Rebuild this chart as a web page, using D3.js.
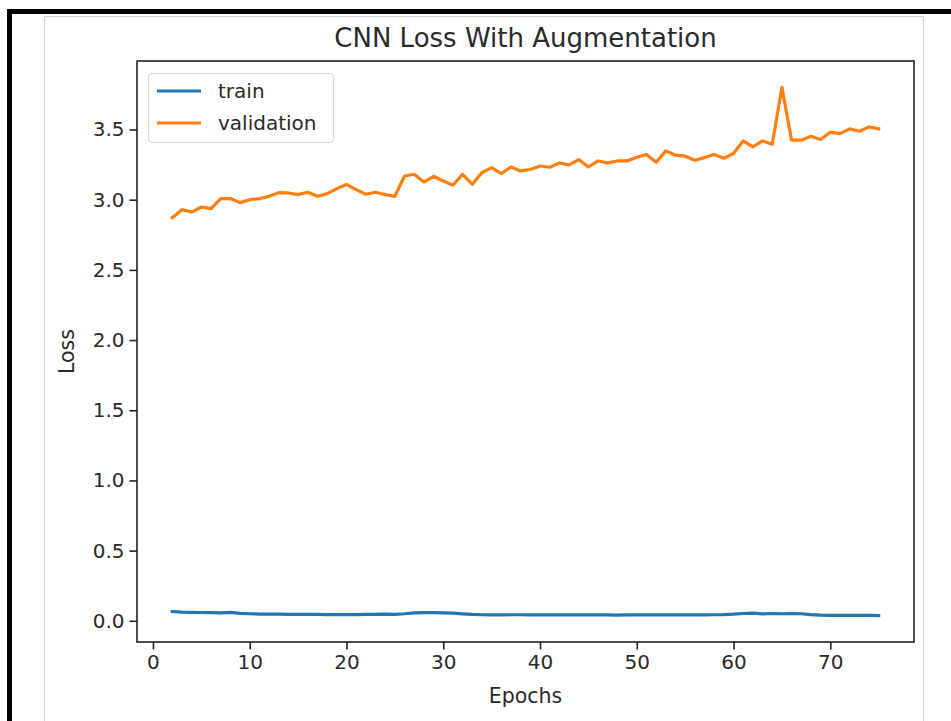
<!DOCTYPE html>
<html>
<head>
<meta charset="utf-8">
<script src="https://cdn.jsdelivr.net/npm/d3@7"></script>
<style>
  html, body { margin: 0; padding: 0; background: #ffffff; }
  svg { display: block; font-family: "DejaVu Sans", sans-serif; }
</style>
</head>
<body>
<div id="chart"></div>
<script>
// epochs on the x axis
let epochs = [2, 3, 4, 5, 6, 7, 8, 9, 10, 11, 12, 13, 14, 15, 16, 17, 18, 19, 20, 21,
  22, 23, 24, 25, 26, 27, 28, 29, 30, 31, 32, 33, 34, 35, 36, 37, 38, 39, 40, 41,
  42, 43, 44, 45, 46, 47, 48, 49, 50, 51, 52, 53, 54, 55, 56, 57, 58, 59, 60, 61,
  62, 63, 64, 65, 66, 67, 68, 69, 70, 71, 72, 73, 74, 75];

let trainLoss = [0.066, 0.062, 0.060, 0.059, 0.058, 0.057, 0.060, 0.053, 0.050, 0.048,
  0.047, 0.047, 0.046, 0.046, 0.045, 0.045, 0.044, 0.044, 0.044, 0.044,
  0.045, 0.045, 0.047, 0.046, 0.050, 0.056, 0.058, 0.058, 0.057, 0.054,
  0.049, 0.045, 0.043, 0.042, 0.042, 0.043, 0.043, 0.042, 0.042, 0.042,
  0.043, 0.042, 0.043, 0.042, 0.042, 0.042, 0.041, 0.042, 0.042, 0.042,
  0.043, 0.042, 0.042, 0.042, 0.042, 0.042, 0.043, 0.044, 0.047, 0.052,
  0.055, 0.049, 0.052, 0.050, 0.052, 0.050, 0.044, 0.040, 0.039, 0.039,
  0.038, 0.038, 0.038, 0.037];

let valLoss = [2.872, 2.929, 2.912, 2.948, 2.936, 3.008, 3.008, 2.979, 3.000, 3.008,
  3.024, 3.050, 3.048, 3.036, 3.053, 3.024, 3.043, 3.079, 3.108, 3.072,
  3.039, 3.053, 3.036, 3.024, 3.169, 3.181, 3.126, 3.167, 3.133, 3.103,
  3.181, 3.110, 3.193, 3.229, 3.186, 3.233, 3.205, 3.215, 3.240, 3.231,
  3.262, 3.248, 3.286, 3.233, 3.276, 3.262, 3.276, 3.276, 3.302, 3.322,
  3.267, 3.348, 3.317, 3.310, 3.281, 3.300, 3.322, 3.295, 3.329, 3.419,
  3.376, 3.419, 3.395, 3.800, 3.424, 3.424, 3.452, 3.429, 3.481, 3.471,
  3.505, 3.488, 3.519, 3.505];

let seriesNames = ["train", "validation"];
let seriesColors = ["#1f77b4", "#ff7f0e"];
let xTicks = [0, 10, 20, 30, 40, 50, 60, 70];
let yTicks = [0.0, 0.5, 1.0, 1.5, 2.0, 2.5, 3.0, 3.5];

let width = 951, height = 721;
let plot = {left: 137, top: 61, right: 914, bottom: 642};

let svg = d3.select("#chart").append("svg")
  .attr("width", width)
  .attr("height", height);

// screenshot frame round the figure
svg.append("rect").attr("x", 0).attr("y", 0).attr("width", width).attr("height", height).attr("fill", "#ffffff");
svg.append("rect").attr("x", 7).attr("y", 9).attr("width", width - 7).attr("height", 5).attr("fill", "#000000");
svg.append("rect").attr("x", 7).attr("y", 9).attr("width", 5).attr("height", height - 9).attr("fill", "#000000");
svg.append("path")
  .attr("d", "M44.5," + height + "V16.5H923.5V" + height)
  .attr("fill", "none")
  .attr("stroke", "#d2d2d2")
  .attr("stroke-width", 1);

// matplotlib style 5% margins
let xPad = (75 - 2) * 0.05;
let yMin = d3.min(trainLoss), yMax = d3.max(valLoss);
let yPad = (yMax - yMin) * 0.05;

let x = d3.scaleLinear().domain([2 - xPad, 75 + xPad]).range([plot.left, plot.right]);
let y = d3.scaleLinear().domain([yMin - yPad, yMax + yPad]).range([plot.bottom, plot.top]);

let g = svg.append("g");

let line = d3.line()
  .x(function(d) { return x(d[0]); })
  .y(function(d) { return y(d[1]); });

let allSeries = [trainLoss, valLoss];
allSeries.forEach(function(vals, i) {
  g.append("path")
    .datum(epochs.map(function(e, k) { return [e, vals[k]]; }))
    .attr("d", line)
    .attr("fill", "none")
    .attr("stroke", seriesColors[i])
    .attr("stroke-width", 3.2)
    .attr("stroke-linejoin", "round")
    .attr("stroke-linecap", "square");
});

// axes
let xAxis = d3.axisBottom(x).tickValues(xTicks).tickFormat(d3.format("d")).tickSizeInner(7.5).tickSizeOuter(0).tickPadding(5);
let yAxis = d3.axisLeft(y).tickValues(yTicks).tickFormat(d3.format(".1f")).tickSizeInner(7.5).tickSizeOuter(0).tickPadding(5);

let gx = svg.append("g").attr("transform", "translate(0," + plot.bottom + ")").call(xAxis);
let gy = svg.append("g").attr("transform", "translate(" + plot.left + ",0)").call(yAxis);

[gx, gy].forEach(function(a) {
  a.select(".domain").remove();
  a.selectAll(".tick line").attr("stroke", "#222").attr("stroke-width", 1.6);
  a.selectAll(".tick text").attr("fill", "#2a2a2a").style("font-size", "20px").style("font-family", "DejaVu Sans");
});

// spines
svg.append("rect")
  .attr("x", plot.left).attr("y", plot.top)
  .attr("width", plot.right - plot.left).attr("height", plot.bottom - plot.top)
  .attr("fill", "none").attr("stroke", "#222").attr("stroke-width", 1.6);

// title and labels
svg.append("text")
  .attr("x", (plot.left + plot.right) / 2).attr("y", 47)
  .attr("text-anchor", "middle")
  .attr("fill", "#2a2a2a")
  .style("font-size", "26px")
  .text("CNN Loss With Augmentation");

svg.append("text")
  .attr("x", (plot.left + plot.right) / 2).attr("y", 703)
  .attr("text-anchor", "middle")
  .attr("fill", "#2a2a2a")
  .style("font-size", "20.5px")
  .text("Epochs");

svg.append("text")
  .attr("transform", "translate(74," + ((plot.top + plot.bottom) / 2) + ") rotate(-90)")
  .attr("text-anchor", "middle")
  .attr("fill", "#2a2a2a")
  .style("font-size", "20.5px")
  .text("Loss");

// legend
let legend = svg.append("g");
legend.append("rect")
  .attr("x", 148.5).attr("y", 73.5).attr("width", 185).attr("height", 69)
  .attr("rx", 4).attr("ry", 4)
  .attr("fill", "#ffffff").attr("fill-opacity", 0.8)
  .attr("stroke", "#d9d9d9").attr("stroke-width", 1.2);

seriesNames.forEach(function(name, i) {
  let ly = 91 + i * 32;
  legend.append("line")
    .attr("x1", 157).attr("x2", 201).attr("y1", ly).attr("y2", ly)
    .attr("stroke", seriesColors[i]).attr("stroke-width", 3.2);
  legend.append("text")
    .attr("x", 218).attr("y", ly + 7)
    .attr("fill", "#2a2a2a")
    .style("font-size", "20px")
    .text(name);
});
</script>
</body>
</html>
